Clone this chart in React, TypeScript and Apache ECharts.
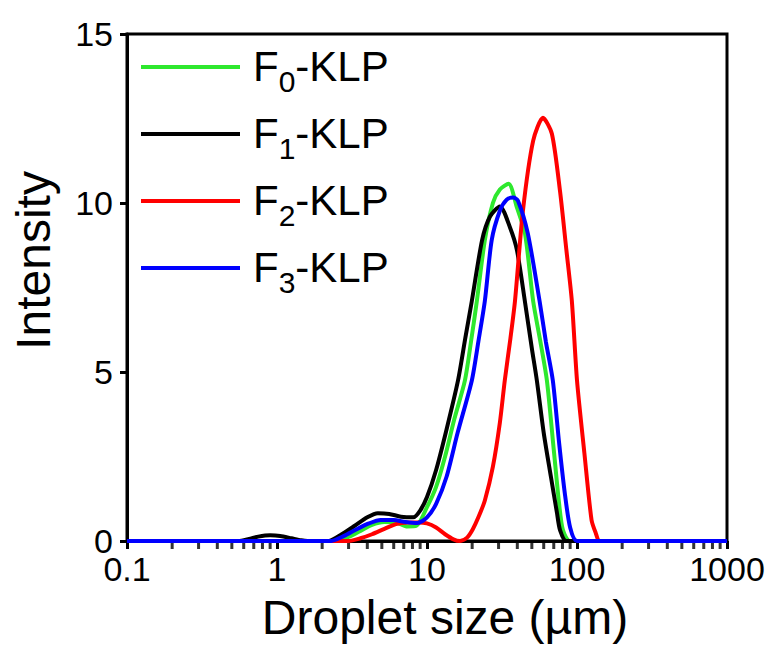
import React, { useEffect, useRef } from "react";
import * as echarts from "echarts";

// Droplet size (µm) / intensity pairs
const f0Size = [0.1, 2.4, 3, 3.6, 4.3, 5.2, 6.2, 7.4, 8.5, 10, 11.5, 13.2, 15.2, 17.9, 19.8, 21.5, 24.3, 27.5, 30.6, 35, 39.8, 45, 51, 57, 63, 70, 76, 80.5, 90, 1000];
const f0Int = [0, 0, 0.12, 0.3, 0.48, 0.56, 0.55, 0.43, 0.45, 1.0, 1.6, 2.5, 3.6, 4.75, 6.0, 7.1, 8.9, 10.0, 10.4, 10.57, 9.86, 9.1, 7.1, 5.9, 4.75, 2.7, 1.1, 0.33, 0, 0];

const f1Size = [0.1, 0.55, 0.65, 0.75, 0.9, 1.05, 1.25, 1.45, 1.6, 2.2, 2.7, 3.3, 4.0, 4.7, 5.6, 6.7, 8.1, 9.0, 10, 11.5, 13.5, 16.1, 18, 19.9, 23.3, 26.3, 30.6, 35.8, 39.8, 44.9, 50, 54, 60, 67, 73.6, 77, 85, 1000];
const f1Int = [0, 0, 0.06, 0.13, 0.17, 0.15, 0.08, 0.02, 0, 0, 0.2, 0.45, 0.7, 0.82, 0.8, 0.72, 0.7, 0.9, 1.3, 2.1, 3.3, 4.75, 6.0, 7.1, 8.9, 9.6, 9.9, 9.27, 8.6, 7.1, 5.7, 4.75, 3.2, 1.9, 0.82, 0.33, 0, 0];

const f2Size = [0.1, 3, 3.6, 4.3, 5.2, 6.2, 7.4, 8.8, 10, 11.5, 13.2, 15, 16.6, 18.5, 20.2, 22, 24.3, 27.5, 30.6, 33, 36, 38.6, 43.6, 51, 59.3, 68, 77, 85, 92.4, 100, 112, 125, 133, 142, 1000];
const f2Int = [0, 0, 0.08, 0.2, 0.36, 0.5, 0.55, 0.55, 0.52, 0.4, 0.2, 0.05, 0, 0.1, 0.35, 0.7, 1.2, 2.2, 3.5, 4.75, 6.0, 7.1, 9.77, 11.84, 12.52, 12.05, 10.36, 8.6, 7.1, 4.75, 2.6, 0.62, 0.25, 0, 0];

const f3Size = [0.1, 2.3, 2.8, 3.4, 4.1, 4.9, 6.0, 7.2, 8.6, 10, 11.5, 13.5, 16, 19.9, 22, 24.3, 27, 30.6, 34, 37.6, 40.4, 47, 56.3, 62, 69, 76, 83, 90, 100, 1000];
const f3Int = [0, 0, 0.15, 0.35, 0.52, 0.62, 0.62, 0.56, 0.53, 0.7, 1.1, 1.9, 3.2, 4.75, 5.9, 7.1, 8.9, 9.77, 10.1, 10.16, 10.07, 9.1, 7.1, 5.9, 4.75, 2.9, 1.4, 0.4, 0, 0];

const seriesNames = ["F0-KLP", "F1-KLP", "F2-KLP", "F3-KLP"];
const seriesColors = ["#2ee82e", "#000000", "#ff0000", "#0000ff"];

const xTickLabels = ["0.1", "1", "10", "100", "1000"];
const yTicks = [0, 5, 10, 15];
const minorTickValues = [
  0.2, 0.3, 0.4, 0.5, 0.6, 0.7, 0.8, 0.9,
  2, 3, 4, 5, 6, 7, 8, 9,
  20, 30, 40, 50, 60, 70, 80, 90,
  200, 300, 400, 500, 600, 700, 800, 900,
];

const pair = (xs: number[], ys: number[]) => xs.map((x, i) => [x, ys[i]]);

export default function App() {
  const ref = useRef<HTMLDivElement>(null);
  useEffect(() => {
    document.body.style.margin = "0";
    const chart = echarts.init(ref.current!, null, { renderer: "svg" });
    const font = "'Liberation Sans', Arial, sans-serif";
    const datasets = [pair(f0Size, f0Int), pair(f1Size, f1Int), pair(f2Size, f2Int), pair(f3Size, f3Int)];
    const option: any = {
      animation: false,
      backgroundColor: "#ffffff",
      textStyle: { fontFamily: font },
      grid: {
        left: 127,
        right: 47,
        top: 34,
        bottom: 109,
        show: true,
        borderColor: "#000",
        borderWidth: 3,
      },
      legend: {
        orient: "vertical",
        left: 141,
        top: 45,
        padding: 0,
        itemWidth: 99,
        itemHeight: 4,
        itemGap: 9,
        icon: "rect",
        data: seriesNames,
        formatter: (name: string) => `{f|F}{s|${name.charAt(1)}}{a|${name.slice(2)}}`,
        textStyle: {
          fontFamily: font,
          rich: {
            f: { fontSize: 42, fontFamily: font, color: "#000", lineHeight: 44, padding: [0, 0, 16, 8], verticalAlign: "top" },
            s: { fontSize: 30, fontFamily: font, color: "#000", lineHeight: 30, padding: [21, 0, 0, 0], verticalAlign: "top" },
            a: { fontSize: 42, fontFamily: font, color: "#000", lineHeight: 44, padding: [0, 0, 16, 0], verticalAlign: "top" },
          },
        },
      },
      xAxis: {
        type: "log",
        logBase: 10,
        min: 0.1,
        max: 1000,
        name: "Droplet size (µm)",
        nameLocation: "middle",
        nameGap: 52,
        nameTextStyle: { fontSize: 48, color: "#000", fontFamily: font, padding: [0, 0, 0, 36] },
        axisLine: { lineStyle: { color: "#000", width: 3 } },
        axisTick: { show: true, length: 8, lineStyle: { color: "#000", width: 3 } },
        splitLine: { show: false },
        axisLabel: {
          fontSize: 34,
          lineHeight: 24,
          color: "#000",
          fontFamily: font,
          margin: 16,
          formatter: (v: number) => {
            const idx = Math.round(Math.log10(v)) + 1;
            return xTickLabels[idx] ?? String(v);
          },
        },
      },
      yAxis: {
        type: "value",
        min: yTicks[0],
        max: yTicks[yTicks.length - 1],
        interval: 5,
        name: "Intensity",
        nameLocation: "middle",
        nameGap: 70,
        nameTextStyle: { fontSize: 48, color: "#000", fontFamily: font, padding: [0, 0, 0, 54] },
        axisLine: { show: true, lineStyle: { color: "#000", width: 3 } },
        axisTick: { show: true, length: 7, lineStyle: { color: "#000", width: 3 } },
        splitLine: { show: false },
        axisLabel: { fontSize: 34, lineHeight: 20, color: "#000", fontFamily: font, margin: 14 },
      },
      series: [
        ...datasets.map((d, i) => ({
          name: seriesNames[i],
          type: "line",
          data: d,
          showSymbol: false,
          symbol: "none",
          smooth: 0.25,
          color: seriesColors[i],
          lineStyle: { color: seriesColors[i], width: 4 },
          z: 3 + i,
        })),
        {
          name: "minor ticks",
          type: "scatter",
          data: minorTickValues.map((v) => [v, 0]),
          symbol: "rect",
          symbolSize: [3, 6],
          symbolOffset: [0, 5],
          itemStyle: { color: "#000" },
          clip: false,
          silent: true,
          z: 1,
        },
      ],
    };
    chart.setOption(option);
    return () => chart.dispose();
  }, []);
  return <div ref={ref} style={{ width: 774, height: 650 }} />;
}
